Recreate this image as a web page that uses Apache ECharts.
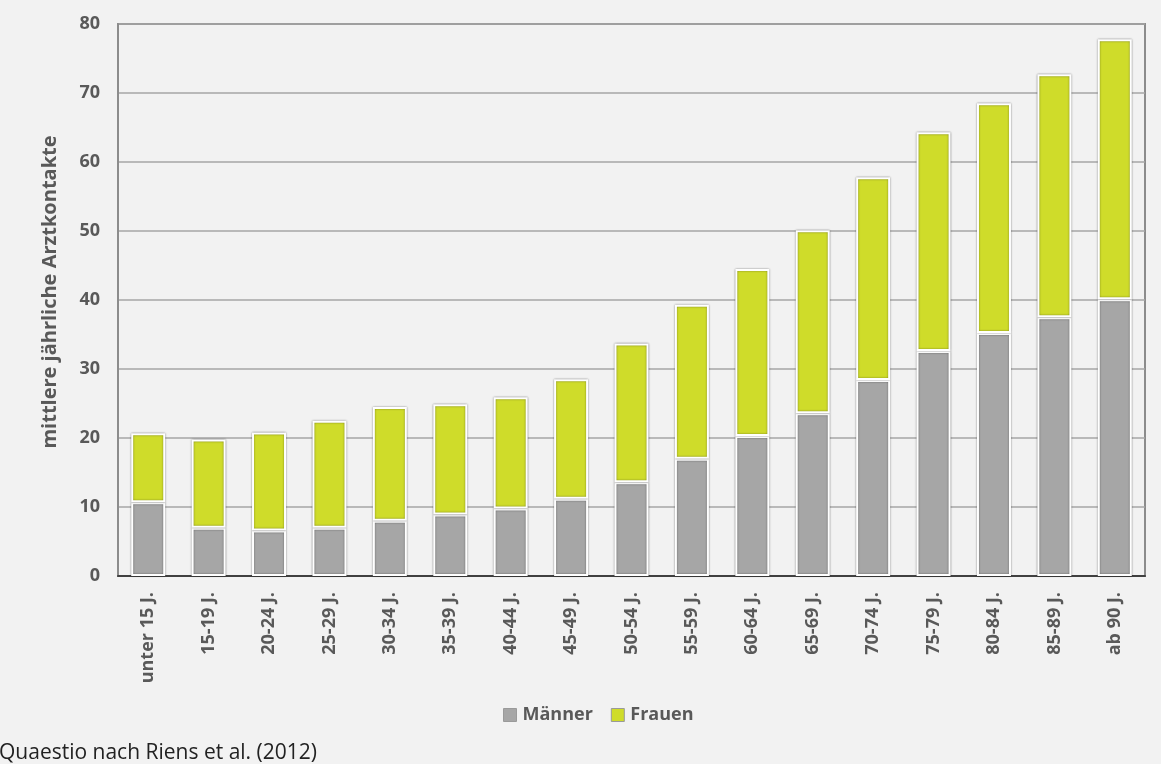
<!DOCTYPE html>
<html lang="de">
<head>
<meta charset="utf-8">
<title>Mittlere jährliche Arztkontakte nach Alter</title>
<script src="https://cdn.jsdelivr.net/npm/echarts@6/dist/echarts.min.js"></script>
<style>
  html, body { margin: 0; padding: 0; background: #f2f2f2; }
  #chart { width: 1161px; height: 764px; }
</style>
</head>
<body>
<div id="chart"></div>
<script>
// Altersgruppen
const categories = ['unter 15 J.', '15-19 J.', '20-24 J.', '25-29 J.', '30-34 J.', '35-39 J.',
  '40-44 J.', '45-49 J.', '50-54 J.', '55-59 J.', '60-64 J.', '65-69 J.', '70-74 J.',
  '75-79 J.', '80-84 J.', '85-89 J.', 'ab 90 J.'];

// mittlere jährliche Arztkontakte
const maenner = [10.7, 7.0, 6.6, 7.0, 8.0, 8.9, 9.8, 11.2, 13.6, 17.0, 20.3, 23.6, 28.4, 32.6, 35.2, 37.5, 40.1];
const frauen  = [10.0, 12.8, 14.2, 15.5, 16.5, 16.0, 16.1, 17.3, 20.1, 22.3, 24.2, 26.5, 29.4, 31.7, 33.3, 35.2, 37.7];

const yTicks = [0, 10, 20, 30, 40, 50, 60, 70, 80];

const textColor = '#595959';
const font = 'Open Sans';

const barStyle = (color) => ({
  color: color,
  borderColor: '#ffffff',
  borderWidth: 2,
  shadowBlur: 2,
  shadowColor: 'rgba(0,0,0,0.45)'
});

const chart = echarts.init(document.getElementById('chart'), null, { renderer: 'canvas' });

chart.setOption({
  backgroundColor: '#f2f2f2',
  animation: false,
  title: {
    text: 'Quaestio nach Riens et al. (2012)',
    left: -1,
    top: 743,
    padding: 0,
    textStyle: { fontFamily: font, fontWeight: 'normal', fontSize: 21, color: '#222' }
  },
  grid: {
    left: 118, right: 16, top: 24, bottom: 188,
    show: true,
    borderColor: '#8c8c8c',
    borderWidth: 2,
    backgroundColor: 'transparent'
  },
  legend: {
    data: ['Männer', 'Frauen'],
    top: 701,
    left: 498,
    itemWidth: 13,
    itemHeight: 13,
    itemGap: 18,
    icon: 'rect',
    itemStyle: { borderColor: '#9a9a9a', borderWidth: 1 },
    textStyle: { fontFamily: font, fontWeight: 'bold', fontSize: 18, color: textColor, padding: [0, 0, 0, 1] }
  },
  xAxis: {
    type: 'category',
    data: categories,
    axisLine: { lineStyle: { color: '#404040', width: 2 } },
    axisTick: { show: false },
    axisLabel: {
      rotate: 90,
      interval: 0,
      margin: 16,
      fontFamily: font,
      fontWeight: 'bold',
      fontSize: 18,
      color: textColor
    }
  },
  yAxis: {
    type: 'value',
    min: yTicks[0],
    max: yTicks[yTicks.length - 1],
    interval: 10,
    name: 'mittlere jährliche Arztkontakte',
    nameLocation: 'middle',
    nameRotate: 90,
    nameGap: 58,
    nameTextStyle: { fontFamily: font, fontWeight: 'bold', fontSize: 20, color: textColor, padding: [0, 0, 0, 16] },
    axisLine: { show: true, lineStyle: { color: '#8c8c8c', width: 2 } },
    axisTick: { show: false },
    axisLabel: {
      margin: 18,
      fontFamily: font,
      fontWeight: 'bold',
      fontSize: 18,
      color: textColor
    },
    splitLine: { lineStyle: { color: '#a6a6a6', width: 1.5 } }
  },
  series: [
    {
      name: 'Männer',
      type: 'bar',
      stack: 'gesamt',
      barWidth: 34,
      data: maenner,
      itemStyle: barStyle('#a6a6a6')
    },
    {
      name: 'Frauen',
      type: 'bar',
      stack: 'gesamt',
      barWidth: 34,
      data: frauen,
      itemStyle: barStyle('#cfdc2a')
    }
  ]
});
</script>
</body>
</html>
